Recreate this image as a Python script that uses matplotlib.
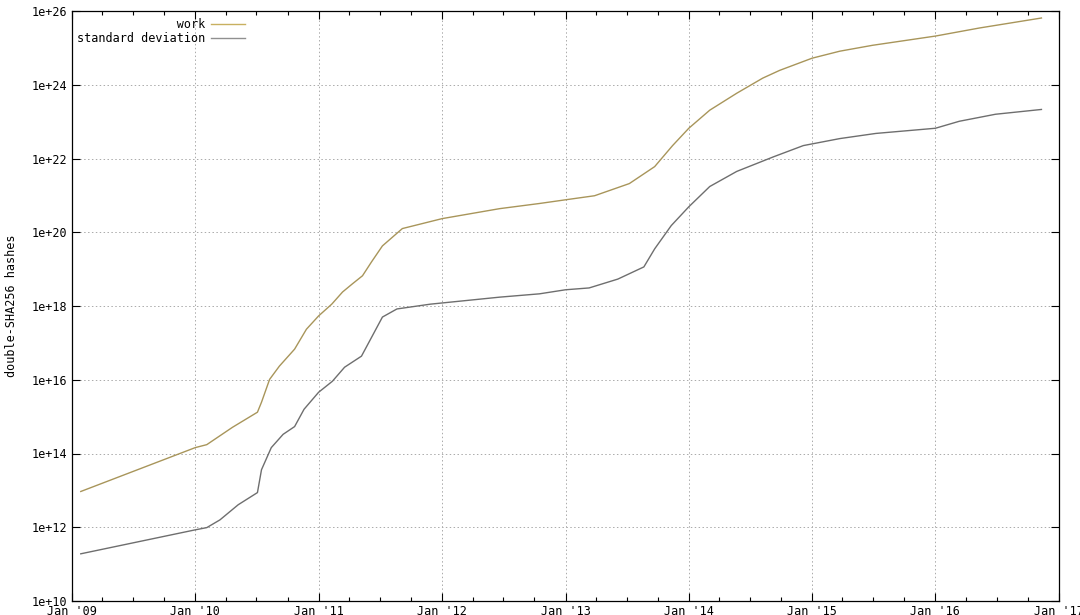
import matplotlib.pyplot as plt
import matplotlib.dates as mdates
import numpy as np
import pandas as pd
import matplotlib as mpl

mpl.rcParams["font.family"] = "DejaVu Sans Mono"
mpl.rcParams["font.size"] = 8

# values (log10 of hashes)
work_dates = ['2009-01-27', '2010-01-01', '2010-02-04', '2010-04-21', '2010-07-04',
              '2010-07-16', '2010-08-09', '2010-09-07', '2010-10-22', '2010-11-26',
              '2011-01-01', '2011-02-09', '2011-03-13', '2011-04-11', '2011-05-11',
              '2011-06-07', '2011-07-09', '2011-09-06', '2012-01-02', '2012-06-20',
              '2012-10-16', '2013-01-01', '2013-03-28', '2013-07-09', '2013-09-22',
              '2013-11-14', '2014-01-01', '2014-03-04', '2014-05-23', '2014-08-08',
              '2014-09-27', '2015-01-01', '2015-03-24', '2015-06-29', '2016-01-01',
              '2016-05-11', '2016-11-10']
work_log = [12.97, 14.16, 14.24, 14.71, 15.12,
            15.39, 16.01, 16.37, 16.83, 17.37,
            17.73, 18.05, 18.38, 18.60, 18.82,
            19.20, 19.63, 20.10, 20.37, 20.64,
            20.78, 20.88, 20.99, 21.32, 21.78,
            22.35, 22.82, 23.31, 23.77, 24.18,
            24.39, 24.72, 24.91, 25.07, 25.32,
            25.54, 25.81]

std_dates = ['2009-01-27', '2010-01-01', '2010-02-04', '2010-03-15', '2010-05-08',
             '2010-07-04', '2010-07-16', '2010-08-14', '2010-09-18', '2010-10-22',
             '2010-11-19', '2011-01-01', '2011-02-11', '2011-03-19', '2011-05-08',
             '2011-06-01', '2011-07-09', '2011-08-21', '2011-11-28', '2012-06-20',
             '2012-10-16', '2013-01-01', '2013-03-12', '2013-06-05', '2013-08-21',
             '2013-09-22', '2013-11-10', '2014-01-01', '2014-03-04', '2014-05-23',
             '2014-09-10', '2014-12-06', '2015-03-24', '2015-07-09', '2016-01-01',
             '2016-03-12', '2016-06-27', '2016-11-10']
std_log = [11.28, 11.93, 11.99, 12.20, 12.61,
           12.94, 13.56, 14.16, 14.52, 14.73,
           15.20, 15.66, 15.96, 16.34, 16.64,
           17.05, 17.70, 17.92, 18.05, 18.24,
           18.33, 18.44, 18.49, 18.73, 19.06,
           19.55, 20.18, 20.69, 21.24, 21.65,
           22.05, 22.35, 22.54, 22.68, 22.82,
           23.01, 23.20, 23.33]

labels = ['work', 'standard deviation']

wd = pd.to_datetime(work_dates)
sd = pd.to_datetime(std_dates)
wv = 10 ** np.array(work_log)
sv = 10 ** np.array(std_log)

fig = plt.figure(figsize=(10.8, 6.15), dpi=100)
ax = fig.add_axes([72 / 1080, 14 / 615, 987 / 1080, 590 / 615])

w = max(len(s) for s in labels)
ax.plot(wd, wv, color='#a8955a', lw=1.0, label=labels[0].rjust(w))
ax.plot(sd, sv, color='#6e6e6e', lw=1.0, label=labels[1].rjust(w))

ax.set_yscale('log')
ax.set_ylim(1e10, 1e26)
ax.set_yticks([10.0 ** k for k in range(10, 27, 2)])
ax.set_yticklabels(['1e+%d' % k for k in range(10, 27, 2)])
ax.yaxis.set_minor_locator(mpl.ticker.NullLocator())

ax.set_xlim(pd.Timestamp('2009-01-01'), pd.Timestamp('2017-01-01'))
ax.xaxis.set_major_locator(mdates.YearLocator())
ax.xaxis.set_minor_locator(mdates.MonthLocator(bymonth=[4, 7, 10]))
ax.xaxis.set_major_formatter(mdates.DateFormatter("Jan '%y"))

ax.tick_params(which='both', direction='in', top=True, right=True, width=0.8, colors='black')
ax.tick_params(which='major', length=6, labelsize=8.5)
ax.tick_params(which='minor', length=3)
ax.tick_params(axis='x', pad=3)
for s in ax.spines.values():
    s.set_linewidth(0.9)

ax.grid(True, which='major', color='#aaaaaa', linestyle=(0, (1.5, 2.5)), linewidth=0.7)
ax.set_ylabel('double-SHA256 hashes', fontsize=8.5, labelpad=10)

leg = ax.legend(loc='upper left', frameon=False, markerfirst=False, handlelength=2.9,
                fontsize=8.5, borderaxespad=0.2, labelspacing=0.05, handletextpad=0.5)
leg.set_bbox_to_anchor((-0.002, 1.0), transform=ax.transAxes)
leg.get_lines()[0].set_color('#c8b060')
leg.get_lines()[1].set_color('#909090')

plt.savefig('out.png', dpi=100)
